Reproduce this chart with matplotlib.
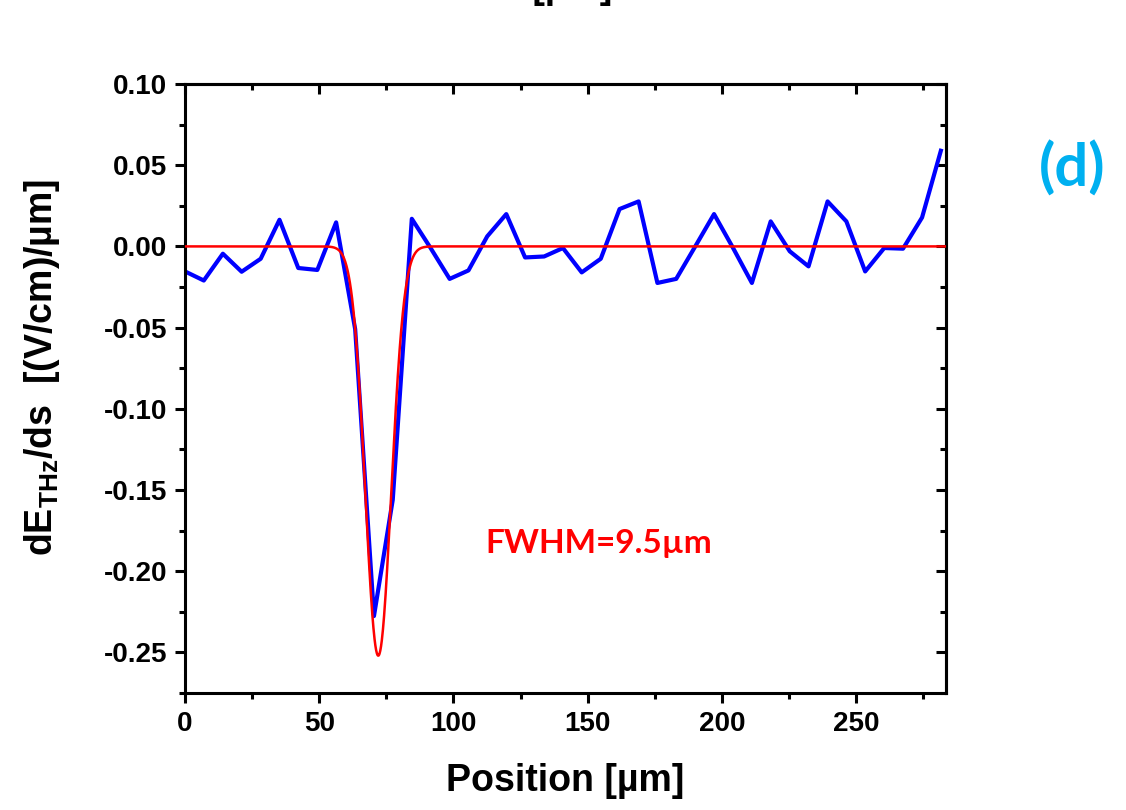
import numpy as np
import matplotlib
matplotlib.use('Agg')
import matplotlib.pyplot as plt
from matplotlib.ticker import MultipleLocator

plt.rcParams['font.family'] = ['Liberation Sans', 'DejaVu Sans']
plt.rcParams['font.weight'] = 'bold'
plt.rcParams['mathtext.fontset'] = 'custom'
plt.rcParams['mathtext.rm'] = 'Liberation Sans:bold'
plt.rcParams['mathtext.bf'] = 'Liberation Sans:bold'

position = [0.0, 7.0, 14.1, 21.1, 28.2, 35.2, 42.2, 49.3, 56.3, 63.4,
            70.4, 77.4, 84.5, 91.5, 98.6, 105.6, 112.6, 119.7, 126.7, 133.8,
            140.8, 147.8, 154.9, 161.9, 169.0, 176.0, 183.0, 190.1, 197.1, 204.2,
            211.2, 218.2, 225.3, 232.3, 239.4, 246.4, 253.4, 260.5, 267.5, 274.6,
            281.6]
deriv = [-0.0154, -0.0210, -0.0045, -0.0156, -0.0076, 0.0164, -0.0133, -0.0145, 0.0148, -0.0510,
         -0.2276, -0.1560, 0.0170, -0.0010, -0.0200, -0.0148, 0.0062, 0.0199, -0.0068, -0.0062,
         -0.0010, -0.0160, -0.0076, 0.0230, 0.0277, -0.0225, -0.0200, 0.0000, 0.0199, -0.0010,
         -0.0225, 0.0154, -0.0030, -0.0123, 0.0277, 0.0154, -0.0154, -0.0010, -0.0014, 0.0178,
         0.0589]

# gaussian fit as drawn (centre, amplitude, sigma)
fit_center = 72.0
fit_amp = -0.252
fit_sigma = 4.8
fit_x = np.linspace(0, 283.5, 2000)
fit_y = fit_amp * np.exp(-(fit_x - fit_center) ** 2 / (2 * fit_sigma ** 2))

fig = plt.figure(figsize=(11.26, 8.10), dpi=100)
ax = fig.add_axes([0.1643, 0.1444, 0.8401 - 0.1643, 0.8963 - 0.1444])

ax.plot(position, deriv, color='#0000ff', lw=3.0, zorder=2)
ax.plot(fit_x, fit_y, color='#ff0000', lw=1.8, zorder=3)

ax.set_xlim(0, 283.5)
ax.set_ylim(-0.275, 0.10)
ax.xaxis.set_major_locator(MultipleLocator(50))
ax.xaxis.set_minor_locator(MultipleLocator(25))
ax.yaxis.set_major_locator(MultipleLocator(0.05))
ax.yaxis.set_minor_locator(MultipleLocator(0.025))
ax.yaxis.set_major_formatter(lambda v, p: '%.2f' % v)

for s in ax.spines.values():
    s.set_linewidth(2.2)
ax.tick_params(which='both', direction='out', width=2.2, labelsize=20, pad=6)
ax.tick_params(which='major', length=7)
ax.tick_params(which='minor', length=4)

# mirrored ticks pointing inward
top = ax.secondary_xaxis('top')
top.xaxis.set_major_locator(MultipleLocator(50))
top.xaxis.set_minor_locator(MultipleLocator(25))
top.tick_params(which='both', direction='in', width=2.2, labeltop=False)
top.tick_params(which='major', length=7)
top.tick_params(which='minor', length=4)
right = ax.secondary_yaxis('right')
right.yaxis.set_major_locator(MultipleLocator(0.05))
right.yaxis.set_minor_locator(MultipleLocator(0.025))
right.tick_params(which='both', direction='in', width=2.2, labelright=False)
right.tick_params(which='major', length=7)
right.tick_params(which='minor', length=4)
for sec in (top, right):
    for s in sec.spines.values():
        s.set_linewidth(2.2)

ax.set_xlabel('Position [µm]', fontsize=27, fontweight='bold', labelpad=19)
ax.set_ylabel(r'dE$_{\mathrm{THz}}$/ds  [(V/cm)/µm]', fontsize=27,
              fontweight='bold')
ax.yaxis.set_label_coords(-0.162, 0.535)

ax.text(112, -0.183, 'FWHM=9.5µm', color='#ff0000', fontsize=24,
        fontweight='bold', family=['Lato', 'DejaVu Sans'], va='center')
fig.text(0.952, 0.792, '(d)', color='#00b0f0', fontsize=43, fontweight='bold',
         family=['Lato', 'DejaVu Sans'], ha='center', va='center')

# bottom of the previous panel's axis label, cut by the top edge
fig.text(0.438, 1.003, 'Position [µm]', fontsize=27, fontweight='bold',
         ha='center', va='baseline')

fig.savefig('out.png', dpi=100)
